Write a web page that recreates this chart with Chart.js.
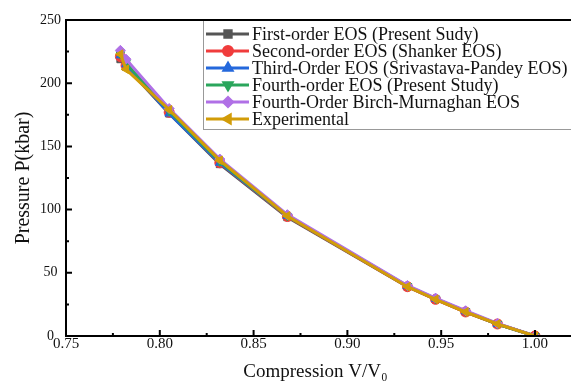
<!DOCTYPE html>
<html>
<head>
<meta charset="utf-8">
<script src="https://cdn.jsdelivr.net/npm/chart.js@4/dist/chart.umd.min.js"></script>
<style>
  html, body { margin:0; padding:0; background:#fff; }
  #wrap { width:571px; height:383px; position:relative; }
</style>
</head>
<body>
<div id="wrap"><canvas id="myChart" width="571" height="383"></canvas></div>
<script>
// compression V/V0 (x) and pressure in kbar for each curve
const compression = [0.779, 0.782, 0.805, 0.832, 0.868, 0.932, 0.947, 0.963, 0.980, 1.000];
const firstOrder  = [219, 213, 176, 136, 94, 39, 29, 19, 9.5, 0];
const secondOrder = [221, 214, 177, 137, 94.5, 39, 29, 19, 9.5, 0];
const thirdOrder  = [222, 215, 176, 137, 95, 39.5, 29.5, 19.5, 9.5, 0];
const fourthOrder = [223, 216, 178, 138, 95, 39.5, 29.5, 19.5, 9.5, 0];
const birchMurn   = [226, 219, 180, 140, 96, 40, 30, 20, 10, 0];
const experiment  = [223, 211, 179, 139, 95, 39, 29, 19, 9.5, 0];

const seriesNames = [
  "First-order EOS (Present Sudy)",
  "Second-order EOS (Shanker EOS)",
  "Third-Order EOS (Srivastava-Pandey EOS)",
  "Fourth-order EOS (Present Study)",
  "Fourth-Order Birch-Murnaghan EOS",
  "Experimental"
];

const xMajor = [0.75, 0.80, 0.85, 0.90, 0.95, 1.00];
const xMinor = [0.775, 0.825, 0.875, 0.925, 0.975];
const yMajor = [0, 50, 100, 150, 200, 250];
const yMinor = [25, 75, 125, 175, 225];

const serif = "'Liberation Serif', 'Times New Roman', serif";

function pts(vals) {
  return vals.map((v, i) => ({ x: compression[i], y: v }));
}

function ds(label, vals, color, style, rot, order) {
  return {
    label: label,
    data: pts(vals),
    borderColor: color,
    backgroundColor: color,
    borderWidth: 3,
    pointStyle: style,
    pointRotation: rot,
    pointRadius: 5,
    pointBorderWidth: 1,
    order: order
  };
}

const datasets = [
  ds(seriesNames[0], firstOrder,  "#555555", "rect", 0, 5),
  ds(seriesNames[1], secondOrder, "#f03c3c", "circle", 0, 4),
  ds(seriesNames[2], thirdOrder,  "#2468dc", "triangle", 0, 3),
  ds(seriesNames[3], fourthOrder, "#2aa65c", "triangle", 180, 2),
  ds(seriesNames[4], birchMurn,   "#b070e6", "rectRot", 0, 1),
  ds(seriesNames[5], experiment,  "#d29c08", "triangle", 270, 0)
];

// inward ticks, frame lines and legend box
const frameAndLegend = {
  id: "frameAndLegend",
  afterDraw(chart) {
    const ctx = chart.ctx;
    const xs = chart.scales.x, ys = chart.scales.y;
    const a = chart.chartArea;
    ctx.save();
    ctx.strokeStyle = "#000";
    ctx.lineWidth = 2;
    ctx.beginPath();
    xMajor.forEach(v => { const p = xs.getPixelForValue(v); ctx.moveTo(p, a.bottom); ctx.lineTo(p, a.bottom - 6); });
    xMinor.forEach(v => { const p = xs.getPixelForValue(v); ctx.moveTo(p, a.bottom); ctx.lineTo(p, a.bottom - 3); });
    yMajor.forEach(v => { const p = ys.getPixelForValue(v); ctx.moveTo(a.left, p); ctx.lineTo(a.left + 6, p); });
    yMinor.forEach(v => { const p = ys.getPixelForValue(v); ctx.moveTo(a.left, p); ctx.lineTo(a.left + 3, p); });
    // bottom axis out to the edge
    ctx.moveTo(a.left, a.bottom);
    ctx.lineTo(chart.width, a.bottom);
    ctx.stroke();

    // legend
    const lx = 203, ly = a.top, lw = 380, lh = 109;
    ctx.fillStyle = "#fff";
    ctx.fillRect(lx, ly + 1, lw, lh);
    ctx.strokeStyle = "#999";
    ctx.lineWidth = 1;
    ctx.strokeRect(lx + 0.5, ly + 0.5, lw, lh);
    ctx.font = "18px " + serif;
    ctx.textBaseline = "middle";
    chart.data.datasets.forEach((d, i) => {
      const y = ly + 14 + i * 17;
      ctx.strokeStyle = d.borderColor;
      ctx.lineWidth = 3;
      ctx.beginPath();
      ctx.moveTo(lx + 3, y);
      ctx.lineTo(lx + 46, y);
      ctx.stroke();
      ctx.fillStyle = d.backgroundColor;
      Chart.helpers.drawPoint(ctx, {
        pointStyle: d.pointStyle, rotation: d.pointRotation, radius: 4.5, borderWidth: 1
      }, lx + 25, y);
      ctx.fillStyle = "#111";
      ctx.fillText(d.label, lx + 49, y + 1);
    });
    // top frame over the legend border
    ctx.strokeStyle = "#000";
    ctx.lineWidth = 2;
    ctx.beginPath();
    ctx.moveTo(a.left, a.top);
    ctx.lineTo(chart.width, a.top);
    ctx.stroke();
    ctx.restore();
  }
};

const ctx = document.getElementById("myChart").getContext("2d");
const myChart = new Chart(ctx, {
  type: "line",
  data: { datasets: datasets },
  options: {
    responsive: false,
    animation: false,
    layout: { padding: { top: 20, right: 0, left: 0, bottom: 0 } },
    plugins: { legend: { display: false }, tooltip: { enabled: false } },
    scales: {
      x: {
        type: "linear",
        min: 0.75,
        max: 1.016,
        afterBuildTicks: s => { s.ticks = xMajor.map(v => ({ value: v })); },
        afterFit: s => { s.height = 47; },
        grid: { display: false, drawTicks: false },
        border: { display: true, color: "#000", width: 2 },
        ticks: {
          color: "#111", padding: -1,
          font: { family: serif, size: 15 },
          callback: v => v.toFixed(2)
        },
        title: {
          display: true, text: "Compression V/V\u2080", color: "#111",
          font: { family: serif, size: 19 }, padding: { top: 0, bottom: 0 }
        }
      },
      y: {
        min: 0,
        max: 250,
        afterBuildTicks: s => { s.ticks = yMajor.map(v => ({ value: v })); },
        afterFit: s => { s.width = 66; },
        grid: { display: false, drawTicks: false },
        border: { display: true, color: "#000", width: 2 },
        ticks: {
          color: "#111", padding: 5, crossAlign: "center",
          font: { family: serif, size: 14 }
        },
        title: {
          display: true, text: "Pressure P(kbar)", color: "#111",
          font: { family: serif, size: 20 }, padding: { top: 12, bottom: 0 }
        }
      }
    }
  },
  plugins: [frameAndLegend]
});
</script>
</body>
</html>
